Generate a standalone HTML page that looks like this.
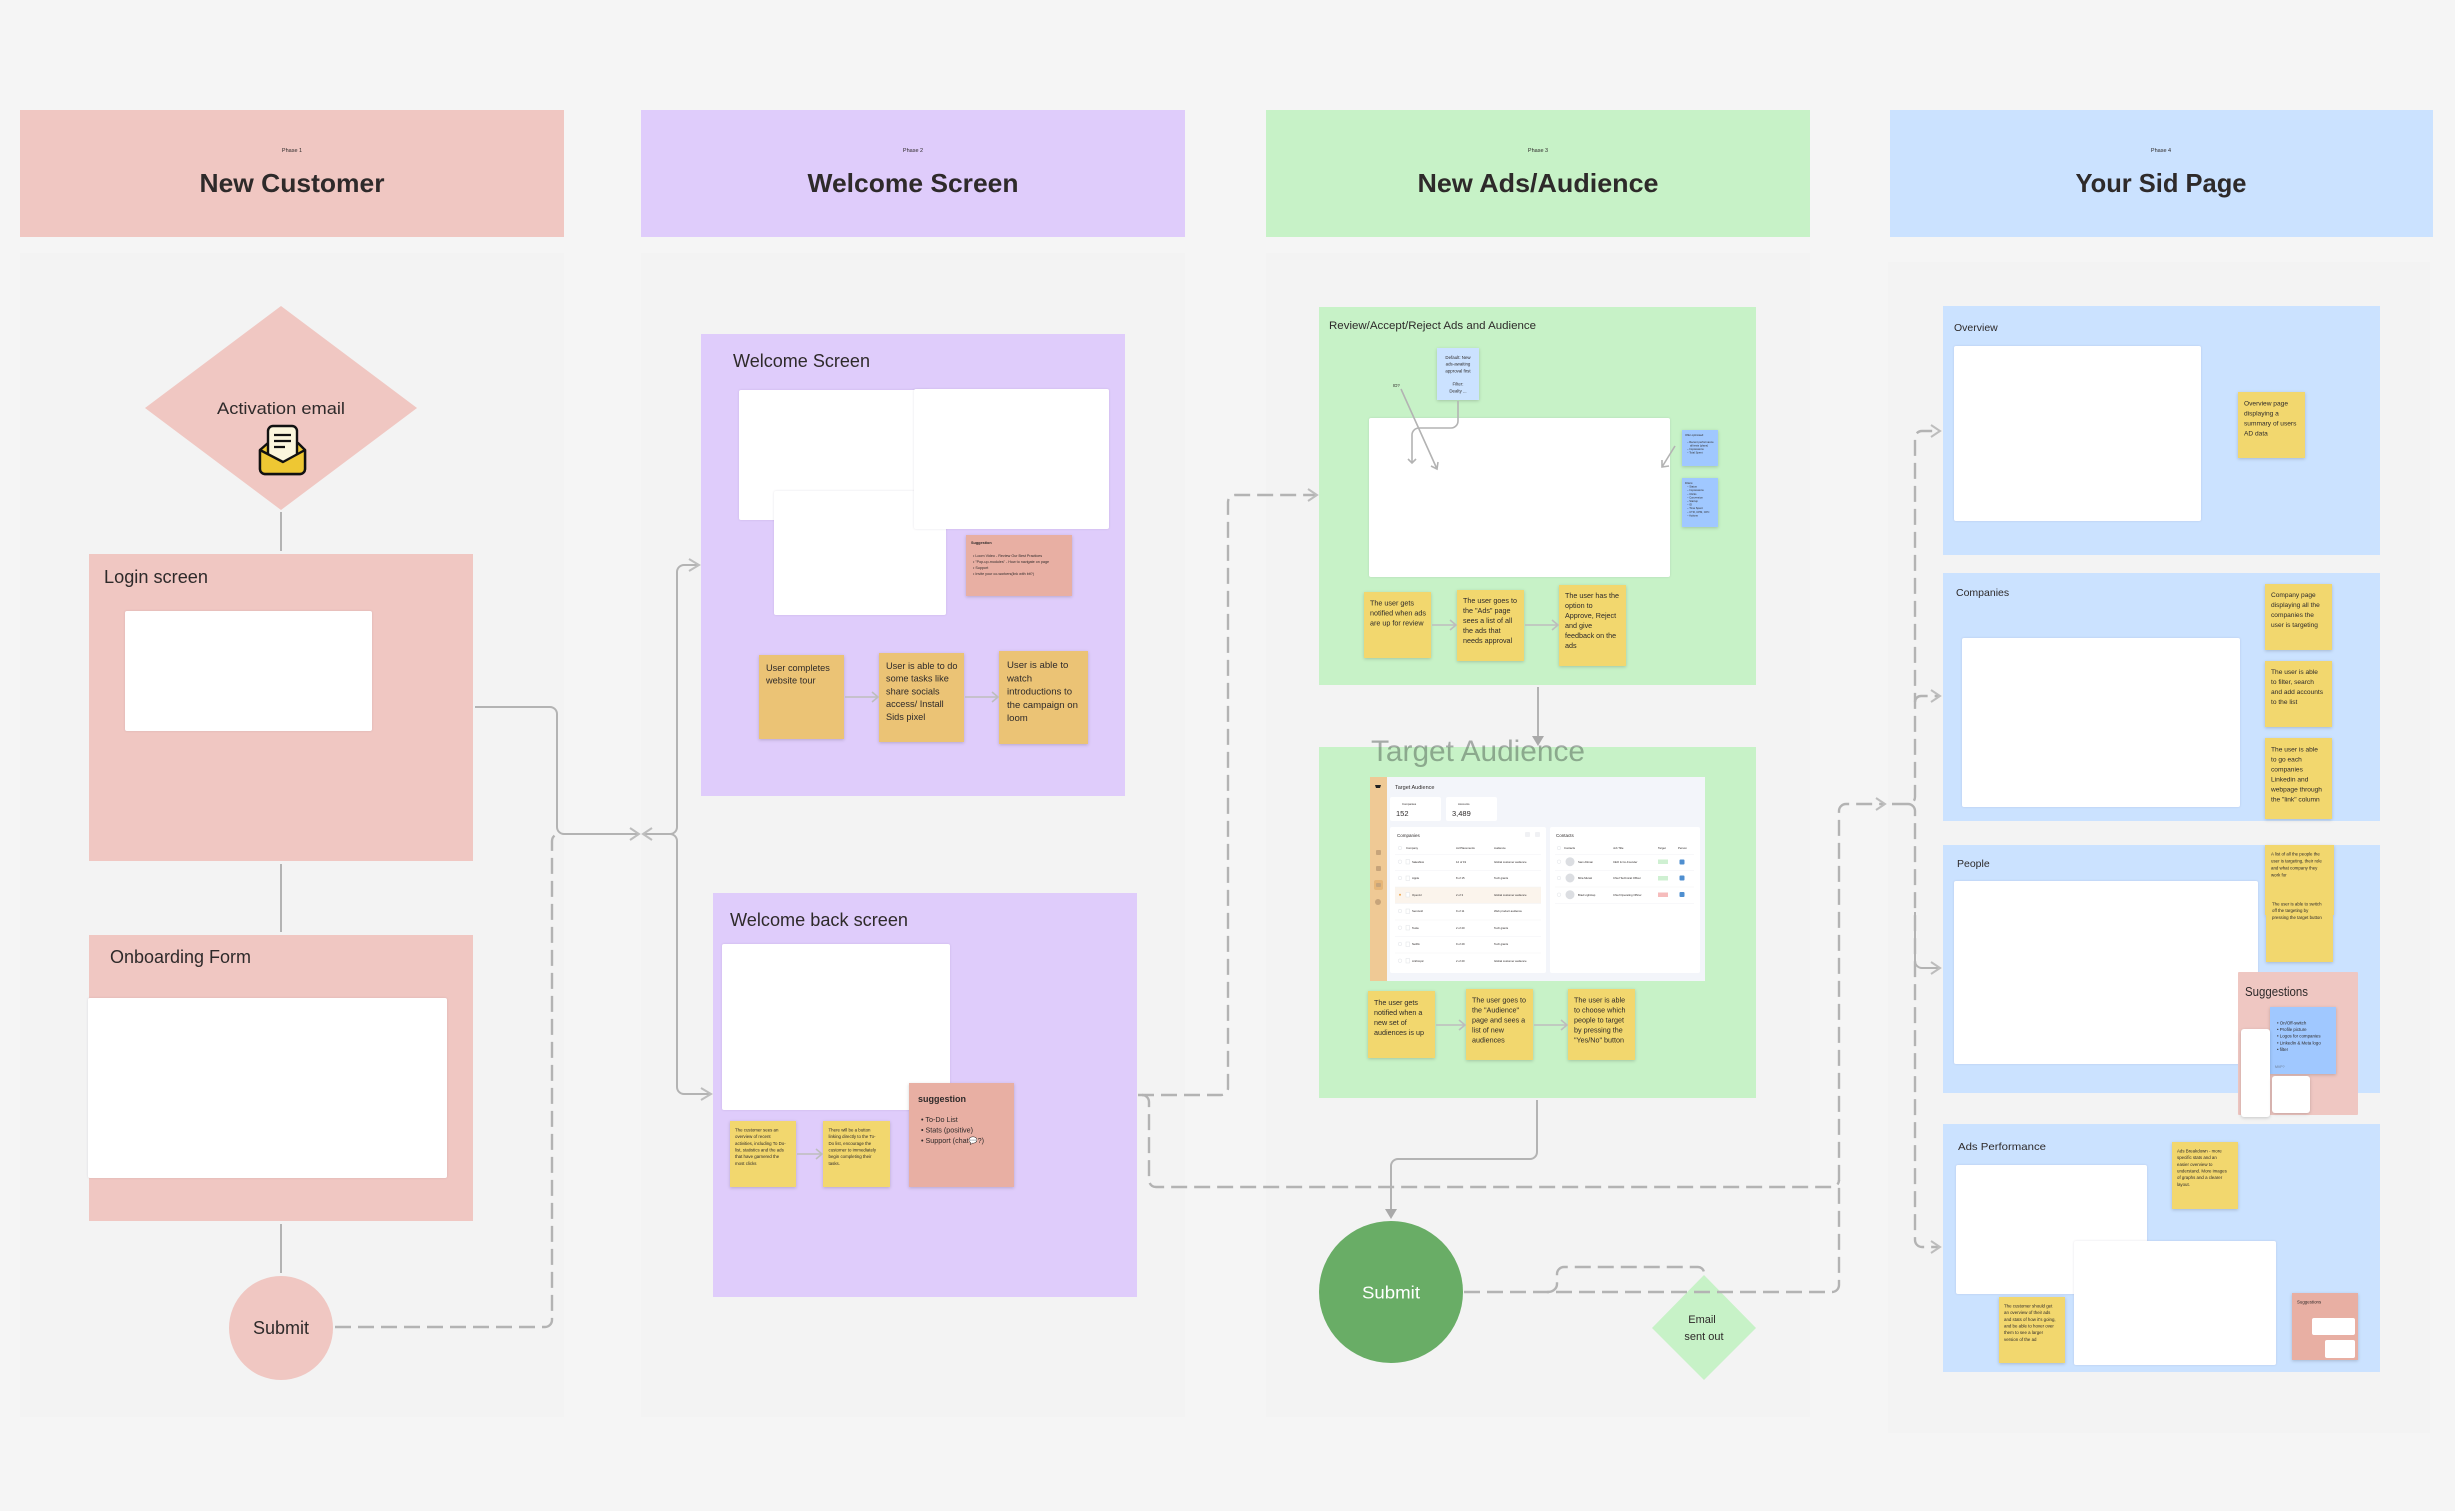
<!DOCTYPE html>
<html><head><meta charset="utf-8"><title>User Flow</title>
<style>
html,body{margin:0;padding:0;background:#f5f5f5}
svg{display:block}
text{font-family:"Liberation Sans",sans-serif;fill:#2e2a2a}
.l{fill:none;stroke:#b3b3b3;stroke-width:2;stroke-linejoin:round}
.d{fill:none;stroke:#b3b3b3;stroke-width:2.4;stroke-dasharray:16 7}
.a{fill:none;stroke:#bdbdbd;stroke-width:1.6}
.s{filter:drop-shadow(0 1px 1.5px rgba(0,0,0,.18))}
.w{filter:drop-shadow(0 .5px 1px rgba(60,40,80,.13))}
.t7{font-size:7.2px}
.t9{font-size:9.2px}
.t4{font-size:4.4px}
.t6{font-size:6.6px}
.g{fill:#9a9ea6;font-size:2.8px}
.k{fill:#555;font-size:3.2px}
</style></head><body>
<svg xmlns="http://www.w3.org/2000/svg" width="2455" height="1511" viewBox="0 0 2455 1511">
<rect width="2455" height="1511" fill="#f5f5f5"/>
<!-- column panels -->
<rect x="20" y="253" width="544" height="1164" fill="#f3f3f3"/>
<rect x="641" y="253" width="544" height="1164" fill="#f3f3f3"/>
<rect x="1266" y="253" width="544" height="1164" fill="#f3f3f3"/>
<rect x="1888" y="262" width="542" height="1171" fill="#f3f3f3"/>
<!-- headers -->
<rect x="20" y="110" width="544" height="127" fill="#f0c7c2"/>
<rect x="641" y="110" width="544" height="127" fill="#dfccfb"/>
<rect x="1266" y="110" width="544" height="127" fill="#c7f2c7"/>
<rect x="1890" y="110" width="543" height="127" fill="#cbe2ff"/>
<g font-size="5.5" text-anchor="middle">
<text x="292" y="152">Phase 1</text><text x="913" y="152">Phase 2</text><text x="1538" y="152">Phase 3</text><text x="2161" y="152">Phase 4</text>
</g>
<g font-size="26" font-weight="700" text-anchor="middle">
<text x="292" y="192" textLength="185" lengthAdjust="spacingAndGlyphs">New Customer</text>
<text x="913" y="192" textLength="211" lengthAdjust="spacingAndGlyphs">Welcome Screen</text>
<text x="1538" y="192" textLength="241" lengthAdjust="spacingAndGlyphs">New Ads/Audience</text>
<text x="2161" y="192" textLength="171" lengthAdjust="spacingAndGlyphs">Your Sid Page</text>
</g>

<!-- Column 1 -->
<polygon points="281,306 417,408 281,510 145,408" fill="#f0c7c2"/>
<text x="281" y="414" font-size="17" text-anchor="middle" textLength="128" lengthAdjust="spacingAndGlyphs">Activation email</text>
<g stroke="#111" stroke-width="2.4" stroke-linejoin="round">
<path d="M260 450l8-7h30l7 7v19a5 5 0 0 1-5 5h-35a5 5 0 0 1-5-5z" fill="#eec733"/>
<path d="M268 431a5 5 0 0 1 5-5h19a5 5 0 0 1 5 5v26l-14 6l-15-6z" fill="#fbf6dc"/>
<path d="M274 435h17M274 441h17M274 447h11" stroke-width="2.2" fill="none"/>
<path d="M260 450l23 12l22-12v19a5 5 0 0 1-5 5h-35a5 5 0 0 1-5-5z" fill="#eec733"/>
</g>
<path class="l" d="M281 512V551M281 864V932M281 1224V1273"/>
<rect x="89" y="554" width="384" height="307" fill="#f0c7c2"/>
<text x="104" y="583" font-size="18" textLength="104" lengthAdjust="spacingAndGlyphs">Login screen</text>
<rect class="w" x="125" y="611" width="247" height="120" rx="2" fill="#fff"/>
<rect x="89" y="935" width="384" height="286" fill="#f0c7c2"/>
<text x="110" y="963" font-size="18" textLength="141" lengthAdjust="spacingAndGlyphs">Onboarding Form</text>
<rect class="w" x="88" y="998" width="359" height="180" rx="2" fill="#fff"/>
<circle cx="281" cy="1328" r="52" fill="#f0c7c2"/>
<text x="281" y="1334" font-size="18" text-anchor="middle">Submit</text>

<!-- connectors left -->
<path class="l" d="M475 707H550a7 7 0 0 1 7 7V827a7 7 0 0 0 7 7H639"/>
<path class="a" style="stroke-width:2" d="M630 828l9 6l-9 6"/>
<path class="d" d="M335 1327H545a7 7 0 0 0 7-7V841a7 7 0 0 1 7-7"/>
<path class="l" d="M644 834H670a7 7 0 0 0 7-7V572a7 7 0 0 1 7-7H698M670 834a7 7 0 0 1 7 7V1087a7 7 0 0 0 7 7H710"/>
<path class="a" style="stroke-width:2" d="M652 828l-9 6l9 6M689 559l10 6l-10 6M701 1088l10 6l-10 6"/>

<!-- Column 2 -->
<rect x="701" y="334" width="424" height="462" fill="#dfccfb"/>
<text x="733" y="367" font-size="18" textLength="137" lengthAdjust="spacingAndGlyphs">Welcome Screen</text>
<rect class="w" x="739" y="390" width="190" height="130" rx="2" fill="#fff"/>
<rect class="w" x="774" y="491" width="172" height="124" rx="2" fill="#fff"/>
<rect class="w" x="914" y="389" width="195" height="140" rx="2" fill="#fff"/>
<rect class="s" x="966" y="535" width="106" height="61" fill="#e8afa3"/>
<text x="971" y="544" font-size="3.8" font-weight="700">Suggestion</text>
<g font-size="3.7">
<text x="973" y="557">•  Loom Video - Review Our Best Practices</text>
<text x="973" y="563">•  "Pop-up-modules" - How to navigate on page</text>
<text x="973" y="569">•  Support</text>
<text x="973" y="575">•  Invite your co-workers(link with bit?)</text>
</g>
<g class="s" fill="#ebc375">
<rect x="759" y="655" width="85" height="84"/><rect x="879" y="653" width="85" height="89"/><rect x="999" y="651" width="89" height="93"/>
</g>
<g class="t9">
<text x="766" y="671">User completes<tspan x="766" dy="12.7">website tour</tspan></text>
<text x="886" y="669">User is able to do<tspan x="886" dy="12.7">some tasks like</tspan><tspan x="886" dy="12.7">share socials</tspan><tspan x="886" dy="12.7">access/ Install</tspan><tspan x="886" dy="12.7">Sids pixel</tspan></text>
<text x="1007" y="668" font-size="9.6">User is able to<tspan x="1007" dy="13.3">watch</tspan><tspan x="1007" dy="13.3">introductions to</tspan><tspan x="1007" dy="13.3">the campaign on</tspan><tspan x="1007" dy="13.3">loom</tspan></text>
</g>
<path class="a" d="M845 697H878M872 692l6 5l-6 5M965 697H998M992 692l6 5l-6 5"/>

<rect x="713" y="893" width="424" height="404" fill="#dfccfb"/>
<text x="730" y="926" font-size="18" textLength="178" lengthAdjust="spacingAndGlyphs">Welcome back screen</text>
<rect class="w" x="722" y="944" width="228" height="166" rx="2" fill="#fff"/>
<g class="s" fill="#f2d76e">
<rect x="730" y="1121" width="66" height="66"/><rect x="823" y="1121" width="67" height="66"/>
</g>
<rect class="s" x="909" y="1083" width="105" height="104" fill="#e8afa3"/>
<path class="a" d="M797 1154H822M816 1149l6 5l-6 5"/>
<g class="t4">
<text x="735" y="1131.500">The customer sees an<tspan x="735" dy="6.65">overview of recent</tspan><tspan x="735" dy="6.65">activities, including To Do-</tspan><tspan x="735" dy="6.65">list, statistics and the ads</tspan><tspan x="735" dy="6.65">that have garnered the</tspan><tspan x="735" dy="6.65">most clicks</tspan></text>
<text x="828.500" y="1131.500">There will be a button<tspan x="828.500" dy="6.65">linking directly to the To-</tspan><tspan x="828.500" dy="6.65">Do list, encourage the</tspan><tspan x="828.500" dy="6.65">customer to immediately</tspan><tspan x="828.500" dy="6.65">begin completing their</tspan><tspan x="828.500" dy="6.65">tasks.</tspan></text>
</g>
<text x="918" y="1102" font-size="9" font-weight="700">suggestion</text>
<g font-size="7.200">
<text x="921" y="1122">•  To-Do List</text>
<text x="921" y="1132.500">•  Stats (positive)</text>
<text x="921" y="1143">•  Support (chat💬?)</text>
</g>

<!-- Dashes Col 2 to Col 3 -->
<path class="d" d="M1138 1095H1221a7 7 0 0 0 7-7V502a7 7 0 0 1 7-7H1316"/>
<path class="a" style="stroke-width:2" d="M1308 489l9 6l-9 6"/>
<path class="d" d="M1142 1095a7 7 0 0 1 7 7V1180a7 7 0 0 0 7 7H1832a7 7 0 0 0 7-7"/>

<!-- Column 3 -->
<rect x="1319" y="307" width="437" height="378" fill="#c7f2c7"/>
<text x="1329" y="329" font-size="11" textLength="207" lengthAdjust="spacingAndGlyphs">Review/Accept/Reject Ads and Audience</text>
<rect class="w" x="1369" y="418" width="301" height="159" rx="2" fill="#fff"/>
<rect class="s" x="1437" y="348" width="42" height="52" fill="#cbe2ff"/>
<g font-size="4.4" text-anchor="middle">
<text x="1458" y="359">Default: New<tspan x="1458" dy="6.65">ads-awaiting</tspan><tspan x="1458" dy="6.65">approval first</tspan><tspan x="1458" dy="13.300">Filter:</tspan><tspan x="1458" dy="6.65">Dealty ...</tspan></text>
</g>
<text x="1393" y="387" font-size="4.4">ID?</text>
<path class="a" style="stroke:#b3b3b3" d="M1458 401V421a7 7 0 0 1-7 7H1419a7 7 0 0 0-7 7V463M1408 459l4 4l4-4M1401 389L1437 469M1431 466l6 3l1-7M1675 446L1662 467M1662 460v7l7-1"/>
<g class="s" fill="#a0c8ff"><rect x="1682" y="430" width="36" height="36"/><rect x="1682" y="478" width="36" height="49"/></g>
<g font-size="2.700">
<text x="1685" y="436">Offer optimised:<tspan x="1687" dy="7">– Recent performance</tspan><tspan x="1690" dy="3.500">all tests (plans)</tspan><tspan x="1687" dy="3.500">– Impressions</tspan><tspan x="1687" dy="3.500">– Total Spent</tspan></text>
<text x="1685" y="484">Filters:<tspan x="1687" dy="3.600">– Status</tspan><tspan x="1687" dy="3.600">– Impressions</tspan><tspan x="1687" dy="3.600">– Clicks</tspan><tspan x="1687" dy="3.600">– Conversion</tspan><tspan x="1687" dy="3.600">– Startup</tspan><tspan x="1687" dy="3.600">– ID</tspan><tspan x="1687" dy="3.600">– Time Spent</tspan><tspan x="1687" dy="3.600">– CTR, CPM, CPC</tspan><tspan x="1687" dy="3.600">– Actions</tspan></text>
</g>
<g class="s" fill="#f2d76e"><rect x="1364" y="592" width="67" height="66"/><rect x="1457" y="590" width="67" height="71"/><rect x="1559" y="585" width="67" height="81"/></g>
<g class="t7">
<text x="1370" y="605.500">The user gets<tspan x="1370" dy="10">notified when ads</tspan><tspan x="1370" dy="10">are up for review</tspan></text>
<text x="1463" y="603">The user goes to<tspan x="1463" dy="10">the "Ads" page</tspan><tspan x="1463" dy="10">sees a list of all</tspan><tspan x="1463" dy="10">the ads that</tspan><tspan x="1463" dy="10">needs approval</tspan></text>
<text x="1565" y="598">The user has the<tspan x="1565" dy="10">option to</tspan><tspan x="1565" dy="10">Approve, Reject</tspan><tspan x="1565" dy="10">and give</tspan><tspan x="1565" dy="10">feedback on the</tspan><tspan x="1565" dy="10">ads</tspan></text>
</g>
<path class="a" d="M1432 625H1456M1450 620l6 5l-6 5M1525 625H1558M1552 620l6 5l-6 5"/>
<path class="l" d="M1538 687V736"/>
<rect x="1319" y="747" width="437" height="351" fill="#c7f2c7"/>
<polygon points="1532,736 1544,736 1538,746" fill="#a9a9a9"/>
<text x="1371" y="761" font-size="30" fill-opacity=".4" textLength="214" lengthAdjust="spacingAndGlyphs" style="fill:#39443f;fill-opacity:.42">Target Audience</text>

<!-- screenshot -->
<rect x="1370" y="777" width="335" height="204" fill="#f3f5fa"/>
<rect x="1370" y="777" width="17" height="204" fill="#efc995"/>
<path d="M1375 785h6l-1 3h-4z" fill="#222"/>
<g fill="#c7a47a"><rect x="1376" y="850" width="5" height="5" rx="1"/><rect x="1376" y="866" width="5" height="5" rx="1"/><rect x="1374" y="880" width="9" height="10" rx="2" fill="#e6b678"/><rect x="1376" y="883" width="5" height="4" rx="1"/><circle cx="1378" cy="902" r="3"/></g>
<text x="1395" y="789" font-size="5.500">Target Audience</text>
<g fill="#fff">
<rect x="1390" y="797" width="51" height="24" rx="2"/><rect x="1446" y="797" width="51" height="24" rx="2"/>
<rect x="1390" y="827" width="156" height="146" rx="2"/><rect x="1550" y="827" width="150" height="146" rx="2"/>
</g>
<rect x="1395" y="887" width="146" height="16.500" fill="#fbf4ec"/>
<g class="g">
<text x="1402" y="805">Companies</text><text x="1458" y="805">Accounts</text>
<text x="1406" y="849">Company</text><text x="1456" y="849">Ad Placements</text><text x="1494" y="849">Audience</text>
<text x="1564" y="849">Contacts</text><text x="1613" y="849">Job Title</text><text x="1658" y="849">Target</text><text x="1678" y="849">Person</text>
<text x="1412" y="863">Salesflow</text><text x="1456" y="863">12 of 19</text><text x="1494" y="863">Global customer audience</text>
<text x="1412" y="879">Apple</text><text x="1456" y="879">8 of 15</text><text x="1494" y="879">Tech giants</text>
<text x="1412" y="896">OpenAI</text><text x="1456" y="896">2 of 3</text><text x="1494" y="896">Global customer audience</text>
<text x="1412" y="912">Semrush</text><text x="1456" y="912">9 of 11</text><text x="1494" y="912">Web product audience</text>
<text x="1412" y="929">Tesla</text><text x="1456" y="929">2 of 20</text><text x="1494" y="929">Tech giants</text>
<text x="1412" y="945">Netflix</text><text x="1456" y="945">9 of 29</text><text x="1494" y="945">Tech giants</text>
<text x="1412" y="962">Anthropic</text><text x="1456" y="962">2 of 20</text><text x="1494" y="962">Global customer audience</text>
<text x="1578" y="863">Sam Altman</text><text x="1613" y="863">CEO &amp; Co-Founder</text>
<text x="1578" y="879">Mira Murati</text><text x="1613" y="879">Chief Technical Officer</text>
<text x="1578" y="896">Brad Lightcap</text><text x="1613" y="896">Chief Operating Officer</text>
</g>
<text x="1397" y="837" font-size="4.500" fill="#444">Companies</text>
<text x="1556" y="837" font-size="4.500">Contacts</text>
<text x="1396" y="816" font-size="7.500">152</text><text x="1452" y="816" font-size="7.500">3,489</text>
<path d="M1395 854.500H1541M1395 870.500H1541M1395 887H1541M1395 903.500H1541M1395 920H1541M1395 936.500H1541M1395 953H1541M1555 854.500H1694M1555 870.500H1694M1555 887H1694M1555 903.500H1694" stroke="#f1f2f5" stroke-width=".6" fill="none"/>
<g fill="#fff" stroke="#dfe1e6" stroke-width=".5">
<circle cx="1400" cy="848" r="1.800"/><circle cx="1400" cy="861.700" r="1.800"/><circle cx="1400" cy="878" r="1.800"/><circle cx="1400" cy="911" r="1.800"/><circle cx="1400" cy="927.700" r="1.800"/><circle cx="1400" cy="944" r="1.800"/><circle cx="1400" cy="960.700" r="1.800"/>
<circle cx="1559" cy="848" r="1.800"/><circle cx="1559" cy="861.700" r="1.800"/><circle cx="1559" cy="878" r="1.800"/><circle cx="1559" cy="894.700" r="1.800"/>
<rect x="1406" y="859.500" width="3.500" height="4.500"/><rect x="1406" y="876" width="3.500" height="4.500"/><rect x="1406" y="892.500" width="3.500" height="4.500"/><rect x="1406" y="909" width="3.500" height="4.500"/><rect x="1406" y="925.500" width="3.500" height="4.500"/><rect x="1406" y="942" width="3.500" height="4.500"/><rect x="1406" y="958.500" width="3.500" height="4.500"/>
</g>
<circle cx="1400" cy="894.700" r="1" fill="#eea54c"/>
<rect x="1525" y="832" width="5" height="5" rx="1" fill="#f0f1f4"/><rect x="1535" y="832" width="5" height="5" rx="1" fill="#f0f1f4"/>
<g fill="#dcdee2"><circle cx="1570" cy="861.700" r="4.500"/><circle cx="1570" cy="878" r="4.500"/><circle cx="1570" cy="894.700" r="4.500"/></g>
<rect x="1658" y="859.500" width="10" height="4.500" fill="#cff0d2"/><rect x="1658" y="876" width="10" height="4.500" fill="#cff0d2"/><rect x="1658" y="892.500" width="10" height="4.500" fill="#f6bcbc"/>
<g fill="#4f8fd0"><rect x="1679.500" y="859.500" width="5" height="5" rx="1"/><rect x="1679.500" y="875.500" width="5" height="5" rx="1"/><rect x="1679.500" y="892" width="5" height="5" rx="1"/></g>

<g class="s" fill="#f2d76e"><rect x="1368" y="991" width="67" height="67"/><rect x="1466" y="989" width="67" height="71"/><rect x="1568" y="989" width="67" height="71"/></g>
<g class="t7">
<text x="1374" y="1005">The user gets<tspan x="1374" dy="10">notified when a</tspan><tspan x="1374" dy="10">new set of</tspan><tspan x="1374" dy="10">audiences is up</tspan></text>
<text x="1472" y="1002.500">The user goes to<tspan x="1472" dy="10">the "Audience"</tspan><tspan x="1472" dy="10">page and sees a</tspan><tspan x="1472" dy="10">list of new</tspan><tspan x="1472" dy="10">audiences</tspan></text>
<text x="1574" y="1002.500">The user is able<tspan x="1574" dy="10">to choose which</tspan><tspan x="1574" dy="10">people to target</tspan><tspan x="1574" dy="10">by pressing the</tspan><tspan x="1574" dy="10">"Yes/No" button</tspan></text>
</g>
<path class="a" d="M1436 1025H1465M1459 1020l6 5l-6 5M1534 1025H1567M1561 1020l6 5l-6 5"/>

<path class="l" d="M1537 1100V1152a7 7 0 0 1-7 7H1398a7 7 0 0 0-7 7V1210"/>
<polygon points="1385,1209 1397,1209 1391,1219" fill="#a9a9a9"/>
<ellipse cx="1391" cy="1292" rx="72" ry="71" fill="#69ad66"/>
<text x="1391" y="1298.500" font-size="17.500" text-anchor="middle" style="fill:#fff" textLength="58" lengthAdjust="spacingAndGlyphs">Submit</text>
<polygon points="1704,1275 1756,1328 1704,1380 1652,1328" fill="#c7f2c7"/>
<path class="d" d="M1464 1292H1832a7 7 0 0 0 7-7V811a7 7 0 0 1 7-7H1884"/>
<path class="d" d="M1547 1292a9 8 0 0 0 10-8V1274a7 7 0 0 1 7-7H1698a6 6 0 0 1 6 6"/>
<g font-size="11" text-anchor="middle"><text x="1702" y="1323">Email</text><text x="1704" y="1340">sent out</text></g>

<!-- Column 4 connectors -->
<path class="a" style="stroke-width:2" d="M1876 798l9 6l-9 6"/>
<path class="d" d="M1892 804H1908a7 7 0 0 0 7-7V438a7 7 0 0 1 7-7H1938"/>
<path class="d" d="M1915 702a6 6 0 0 1 6-6H1938"/>
<path class="d" d="M1908 804a7 7 0 0 1 7 7V1240a7 7 0 0 0 7 7H1938"/>
<path class="l" d="M1915 912V961a7 7 0 0 0 7 7H1938"/>
<path class="a" style="stroke-width:2" d="M1931 425l9 6l-9 6M1931 690l9 6l-9 6M1931 962l9 6l-9 6M1931 1241l9 6l-9 6"/>

<!-- Column 4 frames -->
<g fill="#cbe2ff">
<rect x="1943" y="306" width="437" height="249"/><rect x="1943" y="573" width="437" height="248"/><rect x="1943" y="845" width="437" height="248"/><rect x="1943" y="1124" width="437" height="248"/>
</g>
<text x="1954" y="331" font-size="10.500">Overview</text>
<rect class="w" x="1954" y="346" width="247" height="175" rx="2" fill="#fff"/>
<text x="1956" y="596" font-size="10.500">Companies</text>
<rect class="w" x="1962" y="638" width="278" height="169" rx="2" fill="#fff"/>
<text x="1957" y="867" font-size="10.500">People</text>
<rect class="w" x="1954" y="881" width="304" height="183" rx="2" fill="#fff"/>
<text x="1958" y="1150" font-size="10.500" textLength="88" lengthAdjust="spacingAndGlyphs">Ads Performance</text>
<rect class="w" x="1956" y="1165" width="191" height="129" rx="2" fill="#fff"/>
<rect class="w" x="2074" y="1241" width="202" height="124" rx="2" fill="#fff"/>

<g class="s" fill="#f2d76e">
<rect x="2238" y="392" width="67" height="66"/>
<rect x="2265" y="584" width="67" height="66"/><rect x="2265" y="661" width="67" height="66"/><rect x="2265" y="738" width="67" height="81"/>
<rect x="2265" y="845" width="69" height="70"/><rect x="2266" y="897" width="67" height="65"/>
<rect x="2172" y="1142" width="66" height="67"/><rect x="1999" y="1297" width="66" height="66"/>
</g>
<g class="t6">
<text x="2244" y="405.500">Overview page<tspan x="2244" dy="10">displaying a</tspan><tspan x="2244" dy="10">summary of users</tspan><tspan x="2244" dy="10">AD data</tspan></text>
<text x="2271" y="597">Company page<tspan x="2271" dy="10">displaying all the</tspan><tspan x="2271" dy="10">companies the</tspan><tspan x="2271" dy="10">user is targeting</tspan></text>
<text x="2271" y="674">The user is able<tspan x="2271" dy="10">to filter, search</tspan><tspan x="2271" dy="10">and add accounts</tspan><tspan x="2271" dy="10">to the list</tspan></text>
<text x="2271" y="751.500">The user is able<tspan x="2271" dy="10">to go each</tspan><tspan x="2271" dy="10">companies</tspan><tspan x="2271" dy="10">Linkedin and</tspan><tspan x="2271" dy="10">webpage through</tspan><tspan x="2271" dy="10">the "link" column</tspan></text>
</g>
<g class="t4">
<text x="2271" y="855.500">A list of all the people the<tspan x="2271" dy="7">user is targeting, their role</tspan><tspan x="2271" dy="7">and what company they</tspan><tspan x="2271" dy="7">work for</tspan></text>
<text x="2272" y="905.500">The user is able to switch<tspan x="2272" dy="6.65">off the targeting by</tspan><tspan x="2272" dy="6.65">pressing the target button</tspan></text>
<text x="2177" y="1152.500">Ads Breakdown - more<tspan x="2177" dy="6.65">specific stats and an</tspan><tspan x="2177" dy="6.65">easier overview to</tspan><tspan x="2177" dy="6.65">understand. More images</tspan><tspan x="2177" dy="6.65">of graphs and a clearer</tspan><tspan x="2177" dy="6.65">layout.</tspan></text>
<text x="2004" y="1307.500">The customer should get<tspan x="2004" dy="6.65">an overview of their ads</tspan><tspan x="2004" dy="6.65">and stats of how it's going,</tspan><tspan x="2004" dy="6.65">and be able to hover over</tspan><tspan x="2004" dy="6.65">them to see a larger</tspan><tspan x="2004" dy="6.65">version of the ad</tspan></text>
</g>

<rect x="2238" y="972" width="120" height="143" rx="1" fill="#efc7c2"/>
<text x="2245" y="996" font-size="13" textLength="63" lengthAdjust="spacingAndGlyphs">Suggestions</text>
<rect class="s" x="2270" y="1007" width="66" height="67" fill="#a0c8ff"/>
<g class="t4">
<text x="2277" y="1024.500">•  On/Off-switch</text>
<text x="2277" y="1031">•  Profile picture</text>
<text x="2277" y="1037.500">•  Logos for companies</text>
<text x="2277" y="1044.500">•  Linkedin &amp; Meta logo</text>
<text x="2277" y="1051">•  filter</text>
</g>
<text x="2275" y="1068" font-size="3.500" style="fill:#6b7d95">MVP?</text>
<rect class="s" x="2241" y="1029" width="29" height="88" rx="3" fill="#fff"/>
<rect class="s" x="2272" y="1076" width="38" height="37" rx="3" fill="#fff"/>

<rect class="s" x="2292" y="1293" width="66" height="67" fill="#e8afa3"/>
<text x="2297" y="1303.500" font-size="4.400">Suggestions</text>
<rect x="2312" y="1318" width="43" height="17" rx="2" fill="#fff"/>
<rect x="2325" y="1340" width="30" height="18" rx="2" fill="#fff"/>
</svg>
</body></html>
